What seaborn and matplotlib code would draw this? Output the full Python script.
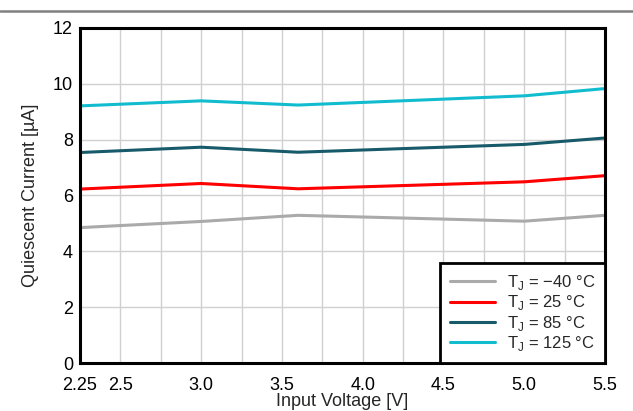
import matplotlib
matplotlib.use("Agg")
import matplotlib.pyplot as plt
import matplotlib.lines as mlines
import pandas as pd
import numpy as np
import seaborn as sns

# input voltage [V]
vin = [2.25, 3.0, 3.6, 5.0, 5.5]
# quiescent current [uA] per junction temperature
iq_m40 = [4.85, 5.07, 5.29, 5.08, 5.29]
iq_25 = [6.23, 6.43, 6.24, 6.49, 6.71]
iq_85 = [7.54, 7.73, 7.55, 7.83, 8.06]
iq_125 = [9.21, 9.39, 9.24, 9.57, 9.83]

labels = ["T$_\\mathregular{J}$ = \u221240 \u00b0C", "T$_\\mathregular{J}$ = 25 \u00b0C",
          "T$_\\mathregular{J}$ = 85 \u00b0C", "T$_\\mathregular{J}$ = 125 \u00b0C"]
colors = ["#aaaaaa", "#ff0000", "#175a6a", "#12bccf"]

xticks = [2.25, 2.5, 3.0, 3.5, 4.0, 4.5, 5.0, 5.5]
xticklabels = ["2.25", "2.5", "3.0", "3.5", "4.0", "4.5", "5.0", "5.5"]
yticks = [0, 2, 4, 6, 8, 10, 12]

rows = []
for lab, ys in zip(labels, [iq_m40, iq_25, iq_85, iq_125]):
    for v, y in zip(vin, ys):
        rows.append({"vin": v, "iq": y, "temp": lab})
df = pd.DataFrame(rows)

sns.set_style("white")
plt.rcParams['font.family'] = ['Liberation Sans', 'DejaVu Sans']
plt.rcParams['mathtext.fontset'] = 'custom'
plt.rcParams['mathtext.rm'] = 'Liberation Sans'

fig = plt.figure(figsize=(6.33, 4.11), dpi=100)
ax = fig.add_axes([80 / 633, 1 - 363 / 411, 525 / 633, 335 / 411])

# grey rule at the top of the page
fig.add_artist(mlines.Line2D([0, 1], [1 - 11 / 411, 1 - 11 / 411], color="#808080", linewidth=1.8))

sns.lineplot(data=df, x="vin", y="iq", hue="temp", palette=colors, linewidth=2.2, ax=ax, legend=False)

ax.set_xlim(2.25, 5.5)
ax.set_ylim(0, 12)
ax.set_xticks(xticks)
ax.set_xticklabels(xticklabels)
ax.set_xticks(np.arange(2.5, 5.5, 0.25), minor=True)
ax.set_yticks(yticks)
ax.grid(which="both", axis="x", color="#d0d0d0", linewidth=1)
ax.grid(which="major", axis="y", color="#d0d0d0", linewidth=1)
ax.set_axisbelow(True)
ax.tick_params(which="both", length=0, labelsize=13, colors="black")
ax.tick_params(axis="x", pad=10)
ax.tick_params(axis="y", pad=5)
for s in ax.spines.values():
    s.set_color("black")
    s.set_linewidth(2.2)

ax.set_xlabel("Input Voltage [V]", fontsize=13, labelpad=-1)
ax.set_ylabel("Quiescent Current [\u00b5A]", fontsize=13, labelpad=10)

handles = [mlines.Line2D([], [], color=c, linewidth=2.2) for c in colors]
leg = ax.legend(handles, labels, loc="lower right", fontsize=12, frameon=True, fancybox=False,
                borderaxespad=0, handlelength=2.7, handletextpad=0.7, labelspacing=0.08,
                borderpad=0.6)
leg.get_frame().set_edgecolor("black")
leg.get_frame().set_linewidth(2)
leg.get_frame().set_alpha(1)

fig.savefig("out.png", dpi=100)
